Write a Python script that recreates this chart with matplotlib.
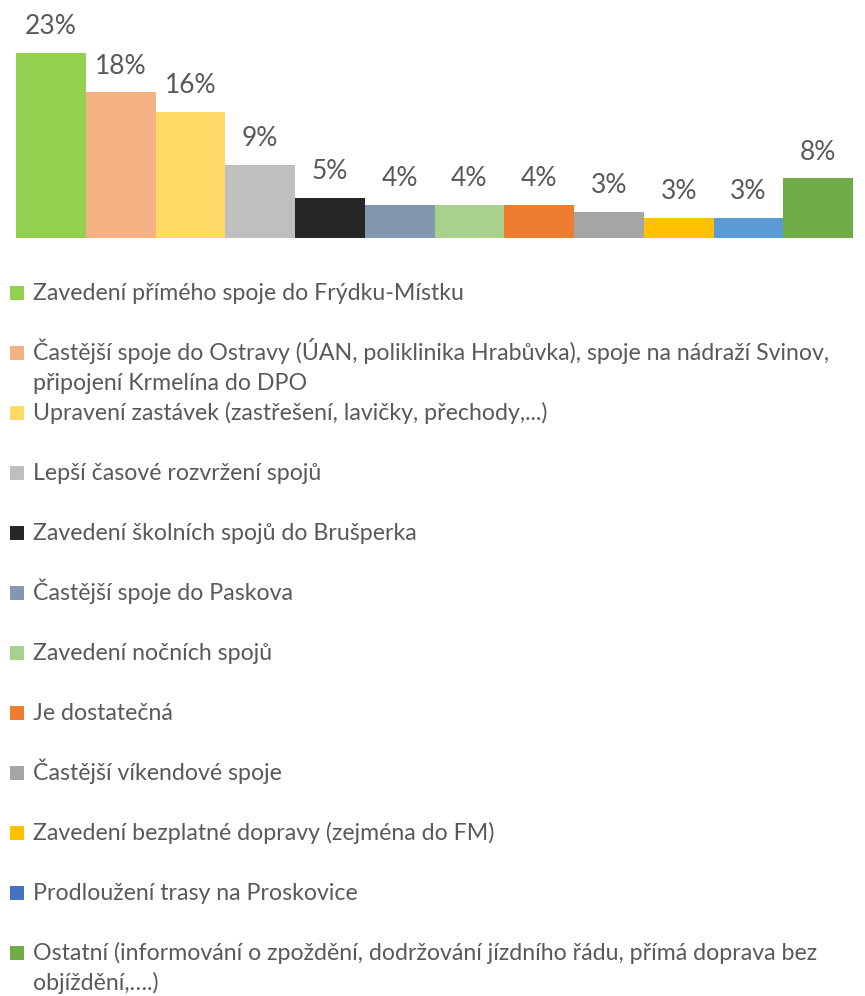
import matplotlib
matplotlib.use('Agg')
import matplotlib.pyplot as plt
from matplotlib.patches import Rectangle

# --- data ---
categories = [
    "Zavedení přímého spoje do Frýdku-Místku",
    "Častější spoje do Ostravy (ÚAN, poliklinika Hrabůvka), spoje na nádraží Svinov,\npřipojení Krmelína do DPO",
    "Upravení zastávek (zastřešení, lavičky, přechody,...)",
    "Lepší časové rozvržení spojů",
    "Zavedení školních spojů do Brušperka",
    "Častější spoje do Paskova",
    "Zavedení nočních spojů",
    "Je dostatečná",
    "Častější víkendové spoje",
    "Zavedení bezplatné dopravy (zejména do FM)",
    "Prodloužení trasy na Proskovice",
    "Ostatní (informování o zpoždění, dodržování jízdního řádu, přímá doprava bez\nobjíždění,….)",
]
values = [23.3, 18.3, 15.8, 9.2, 5.0, 4.2, 4.2, 4.2, 3.3, 2.5, 2.5, 7.5]
value_labels = ["23%", "18%", "16%", "9%", "5%", "4%", "4%", "4%", "3%", "3%", "3%", "8%"]

bar_colors = ["#92D050", "#F4B183", "#FFD966", "#BFBFBF", "#262626", "#8497B0",
              "#A9D18E", "#ED7D31", "#A5A5A5", "#FFC000", "#5B9BD5", "#70AD47"]
legend_colors = bar_colors[:10] + ["#4472C4", "#70AD47"]

TEXT = "#595959"
FONT = "Lato"
W, H = 865, 996

fig = plt.figure(figsize=(W / 100, H / 100), dpi=100)

# --- bars ---
ax = fig.add_axes([16 / W, (H - 238) / H, 837 / W, 238 / H])
x = list(range(len(values)))
ax.bar(x, values, width=1.0, color=bar_colors, linewidth=0)
for xi, v, lab in zip(x, values, value_labels):
    ax.annotate(lab, (xi, v), xytext=(0, 13.5), textcoords='offset points',
                ha='center', va='baseline', fontsize=19, color=TEXT, family=FONT)
ax.set_xlim(-0.5, len(values) - 0.5)
ax.set_ylim(0, 29.9)
ax.axis('off')

# --- legend drawn by hand (fixed slots like the original) ---
for i, (cat, col) in enumerate(zip(categories, legend_colors)):
    y_px = 293 + 60 * i
    fig.patches.append(Rectangle((10 / W, 1 - (y_px + 7) / H), 14 / W, 14 / H,
                                 transform=fig.transFigure, color=col, linewidth=0))
    for k, line in enumerate(cat.split("\n")):
        fig.text(33 / W, 1 - (y_px + 7 + 30 * k) / H, line, ha='left', va='baseline',
                 fontsize=16.7, color=TEXT, family=FONT)

fig.savefig("out.png", dpi=100)
